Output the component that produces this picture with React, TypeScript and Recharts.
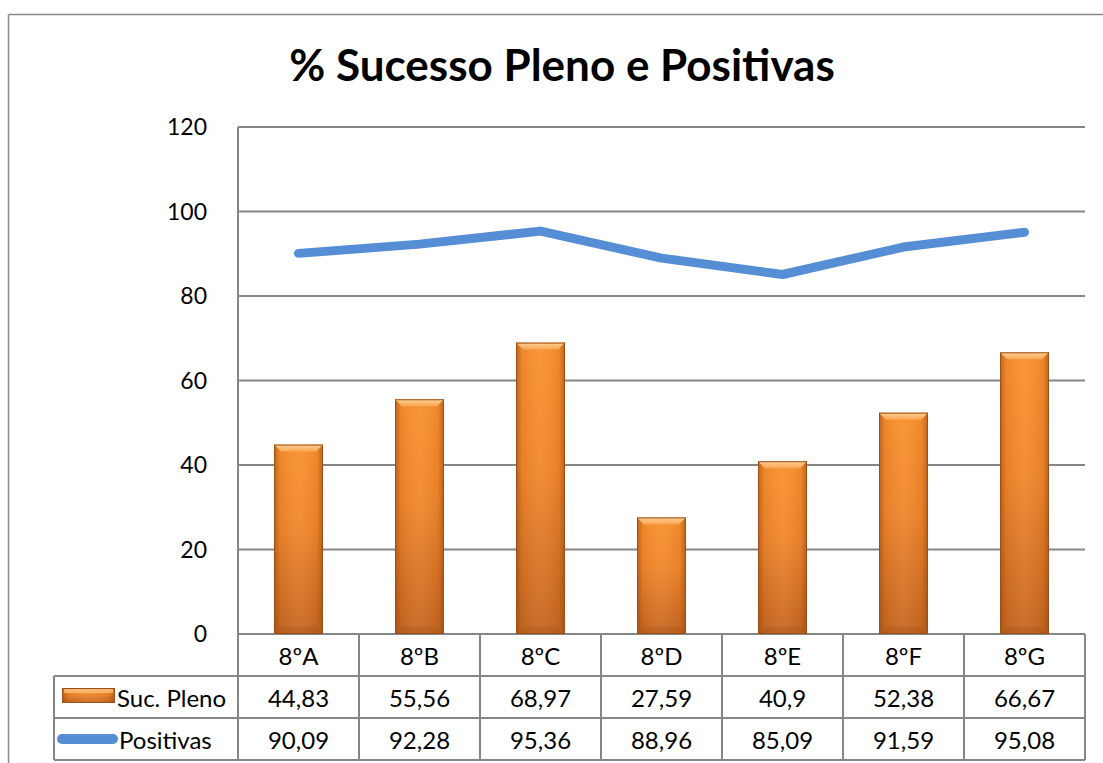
import React from "react";
import { ComposedChart, Bar, Line, XAxis, YAxis, CartesianGrid } from "recharts";

const categories = ["8ºA", "8ºB", "8ºC", "8ºD", "8ºE", "8ºF", "8ºG"];
const sucPleno = [44.83, 55.56, 68.97, 27.59, 40.9, 52.38, 66.67];
const positivas = [90.09, 92.28, 95.36, 88.96, 85.09, 91.59, 95.08];
const yTicks = [0, 20, 40, 60, 80, 100, 120];
const seriesNames = ["Suc. Pleno", "Positivas"];
const title = "% Sucesso Pleno e Positivas";

const W = 1103;
const H = 763;
const PLOT_LEFT = 238;
const PLOT_RIGHT_GAP = 18;
const PLOT_TOP = 127;
const TABLE_H = 129;
const PLOT_BOTTOM = H - TABLE_H;
const COL = (W - PLOT_LEFT - PLOT_RIGHT_GAP) / categories.length;
const ROW = 42;
const TABLE_LEFT = 54;
const GRID = "#868686";
const FONT = "Lato, 'Open Sans', sans-serif";
const BLUE = "#558ED5";

const data = categories.map((cat, i) => ({ cat, suc: sucPleno[i], pos: positivas[i] }));

const fmt = (v: number) => String(v).replace(".", ",");

function BarShape(props: any) {
  const { x, y, width, height } = props;
  if (!height || height <= 0) return null;
  const b = Math.min(7, height / 2);
  return (
    <g>
      <rect x={x} y={y} width={width} height={height} fill="url(#barV)" />
      <rect x={x} y={y} width={width} height={height} fill="url(#barH)" />
      <polygon
        points={`${x},${y} ${x + width},${y} ${x + width - b},${y + b} ${x + b},${y + b}`}
        fill="url(#bevelTop)"
      />
      <polygon
        points={`${x},${y + height} ${x + width},${y + height} ${x + width - b},${y + height - b} ${x + b},${y + height - b}`}
        fill="#a9561a"
        opacity={0.35}
      />
      <rect x={x + 0.5} y={y + 0.5} width={width - 1} height={height - 1} fill="none" stroke="#9c4f17" strokeWidth={1} />
    </g>
  );
}

function TableTick(props: any) {
  const { x, index, payload } = props;
  const top = PLOT_BOTTOM;
  const left = x - COL / 2;
  const right = x + COL / 2;
  const textStyle = { fontFamily: FONT, fontSize: 24, fill: "#000" };
  return (
    <g>
      <line x1={right} y1={top} x2={right} y2={top + ROW * 3} stroke={GRID} strokeWidth={2} />
      {[1, 2, 3].map((r) => (
        <line key={r} x1={left} y1={top + ROW * r} x2={right} y2={top + ROW * r} stroke={GRID} strokeWidth={2} />
      ))}
      <text x={x} y={top + ROW * 0.5} textAnchor="middle" dominantBaseline="central" style={textStyle}>
        {payload.value}
      </text>
      <text x={x} y={top + ROW * 1.5} textAnchor="middle" dominantBaseline="central" style={textStyle}>
        {fmt(sucPleno[index])}
      </text>
      <text x={x} y={top + ROW * 2.5} textAnchor="middle" dominantBaseline="central" style={textStyle}>
        {fmt(positivas[index])}
      </text>
      {index === 0 && (
        <g>
          <line x1={left} y1={top} x2={left} y2={top + ROW * 3} stroke={GRID} strokeWidth={2} />
          <line x1={TABLE_LEFT} y1={top + ROW} x2={TABLE_LEFT} y2={top + ROW * 3} stroke={GRID} strokeWidth={2} />
          {[1, 2, 3].map((r) => (
            <line key={r} x1={TABLE_LEFT} y1={top + ROW * r} x2={left} y2={top + ROW * r} stroke={GRID} strokeWidth={2} />
          ))}
          <g>
            <rect x={62} y={top + ROW + 12} width={53} height={15} fill="url(#barV)" />
            <rect x={62} y={top + ROW + 12} width={53} height={15} fill="url(#barH)" />
            <rect x={64} y={top + ROW + 13} width={49} height={4} fill="#fbbf7a" opacity={0.8} />
            <rect x={62.5} y={top + ROW + 12.5} width={52} height={14} fill="none" stroke="#9c4f17" />
          </g>
          <text x={117} y={top + ROW * 1.5} dominantBaseline="central" style={textStyle}>
            {seriesNames[0]}
          </text>
          <line x1={62} y1={top + ROW * 2.5} x2={113} y2={top + ROW * 2.5} stroke={BLUE} strokeWidth={10} strokeLinecap="round" />
          <text x={119} y={top + ROW * 2.5} dominantBaseline="central" style={textStyle}>
            {seriesNames[1]}
          </text>
        </g>
      )}
    </g>
  );
}

export default function App() {
  return (
    <div style={{ position: "absolute", left: 0, top: 0, width: W, height: H, background: "#fff" }}>
      <svg width={W} height={H} style={{ position: "absolute", left: 0, top: 0 }}>
        <line x1={8.5} y1={14.5} x2={W} y2={14.5} stroke="#8a8a8a" strokeWidth={1.5} />
        <line x1={8.5} y1={14.5} x2={8.5} y2={H} stroke="#8a8a8a" strokeWidth={1.5} />
        <text
          x={562}
          y={81}
          textAnchor="middle"
          style={{ fontFamily: FONT, fontWeight: 700, fontSize: 44, fill: "#000" }}
        >
          {title}
        </text>
      </svg>
      <div style={{ position: "absolute", left: 0, top: 0 }}>
        <ComposedChart
          width={W}
          height={H}
          data={data}
          margin={{ top: PLOT_TOP, right: PLOT_RIGHT_GAP, left: 0, bottom: 0 }}
          barCategoryGap="30%"
        >
          <defs>
            <linearGradient id="barV" x1="0" y1="0" x2="0" y2="1">
              <stop offset="0%" stopColor="#f98f2c" />
              <stop offset="45%" stopColor="#f0852a" />
              <stop offset="100%" stopColor="#c4651f" />
            </linearGradient>
            <linearGradient id="barH" x1="0" y1="0" x2="1" y2="0">
              <stop offset="0%" stopColor="#8a4212" stopOpacity={0.55} />
              <stop offset="12%" stopColor="#8a4212" stopOpacity={0.1} />
              <stop offset="50%" stopColor="#ffffff" stopOpacity={0.06} />
              <stop offset="88%" stopColor="#8a4212" stopOpacity={0.1} />
              <stop offset="100%" stopColor="#8a4212" stopOpacity={0.55} />
            </linearGradient>
            <linearGradient id="bevelTop" x1="0" y1="0" x2="0" y2="1">
              <stop offset="0%" stopColor="#fdd29a" />
              <stop offset="100%" stopColor="#f9a54f" />
            </linearGradient>
          </defs>
          <CartesianGrid vertical={false} stroke={GRID} strokeWidth={2} />
          <XAxis
            dataKey="cat"
            interval={0}
            axisLine={false}
            tickLine={false}
            tick={<TableTick />}
            height={TABLE_H}
          />
          <YAxis
            domain={[0, 120]}
            ticks={yTicks}
            interval={0}
            axisLine={{ stroke: GRID, strokeWidth: 2 }}
            tickLine={false}
            tickMargin={25}
            width={PLOT_LEFT}
            tick={{ fontFamily: FONT, fontSize: 23, fill: "#000" }}
          />
          <Bar dataKey="suc" barSize={49} shape={<BarShape />} isAnimationActive={false} />
          <Line
            dataKey="pos"
            type="linear"
            stroke={BLUE}
            strokeWidth={9}
            strokeLinecap="round"
            strokeLinejoin="round"
            dot={false}
            activeDot={false}
            isAnimationActive={false}
          />
        </ComposedChart>
      </div>
    </div>
  );
}
